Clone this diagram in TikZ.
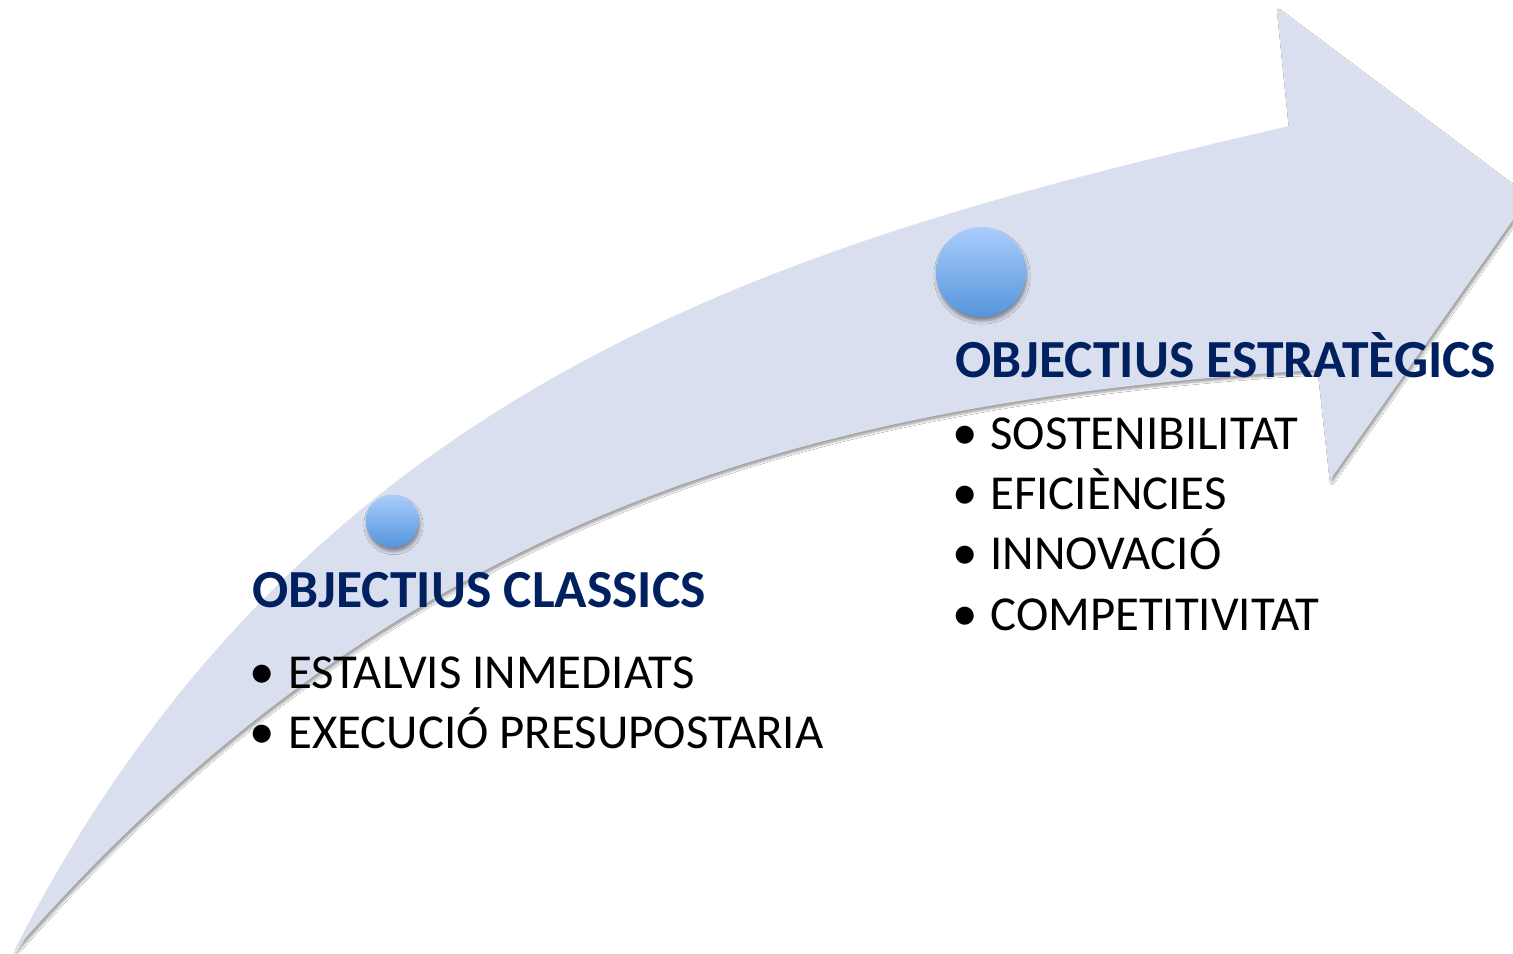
\documentclass[tikz,border=0pt]{standalone}
\usepackage{fontspec}
\setmainfont{Carlito}
\usetikzlibrary{shadows.blur}
\definecolor{arrowfill}{HTML}{D9DFEE}
\definecolor{navy}{HTML}{002060}
\definecolor{balltop}{HTML}{AACDFC}
\definecolor{ballbot}{HTML}{5595DC}
\begin{document}
\begin{tikzpicture}[x=0.5pt,y=-0.5pt,
  heading/.style={font=\fontsize{26.8}{30}\selectfont\bfseries, text=navy, anchor=base west, inner sep=0pt},
  item/.style={font=\fontsize{24.4}{28}\selectfont, anchor=base west, inner sep=0pt},
  bul/.style={font=\fontsize{25.5}{28}\selectfont, anchor=base, inner sep=0pt},
  ball/.style={circle, top color=balltop, bottom color=ballbot, draw=none, inner sep=0pt,
    blur shadow={shadow xshift=0.5pt, shadow yshift=-2pt, shadow blur radius=1.6pt, shadow opacity=40}}]
\useasboundingbox (0,0) rectangle (1513,953);
\clip (0,0) rectangle (1513,953);
\fill[white] (0,0) rectangle (1513,953);
\fill[arrowfill, blur shadow={shadow xshift=1pt, shadow yshift=-1.5pt, shadow blur radius=1pt, shadow opacity=35}]
  (14,951) .. controls (310,370) and (802,239) .. (1289,126)
  -- (1277,8) -- (1529,197) -- (1330,480) -- (1318,370)
  .. controls (819,400) and (400,510) .. (14,951) -- cycle;
\node[ball, minimum size=26.5pt] (small) at (392.5,521) {};
\node[ball, minimum size=45pt] (big) at (981,272) {};
\node[heading] (h1) at (252,607) {OBJECTIUS CLASSICS};
\node[bul] (b1) at (262,688) {•};
\node[item] (t1) at (288,688) {ESTALVIS INMEDIATS};
\node[bul] (b2) at (262,748) {•};
\node[item] (t2) at (288,748) {EXECUCIÓ PRESUPOSTARIA};
\node[heading] (h2) at (955,377) {OBJECTIUS ESTRATÈGICS};
\node[bul] (b3) at (965,449) {•};
\node[item] (t3) at (990,449) {SOSTENIBILITAT};
\node[bul] (b4) at (965,509) {•};
\node[item] (t4) at (990,509) {EFICIÈNCIES};
\node[bul] (b5) at (965,569) {•};
\node[item] (t5) at (990,569) {INNOVACIÓ};
\node[bul] (b6) at (965,630) {•};
\node[item] (t6) at (990,630) {COMPETITIVITAT};
\end{tikzpicture}
\end{document}
